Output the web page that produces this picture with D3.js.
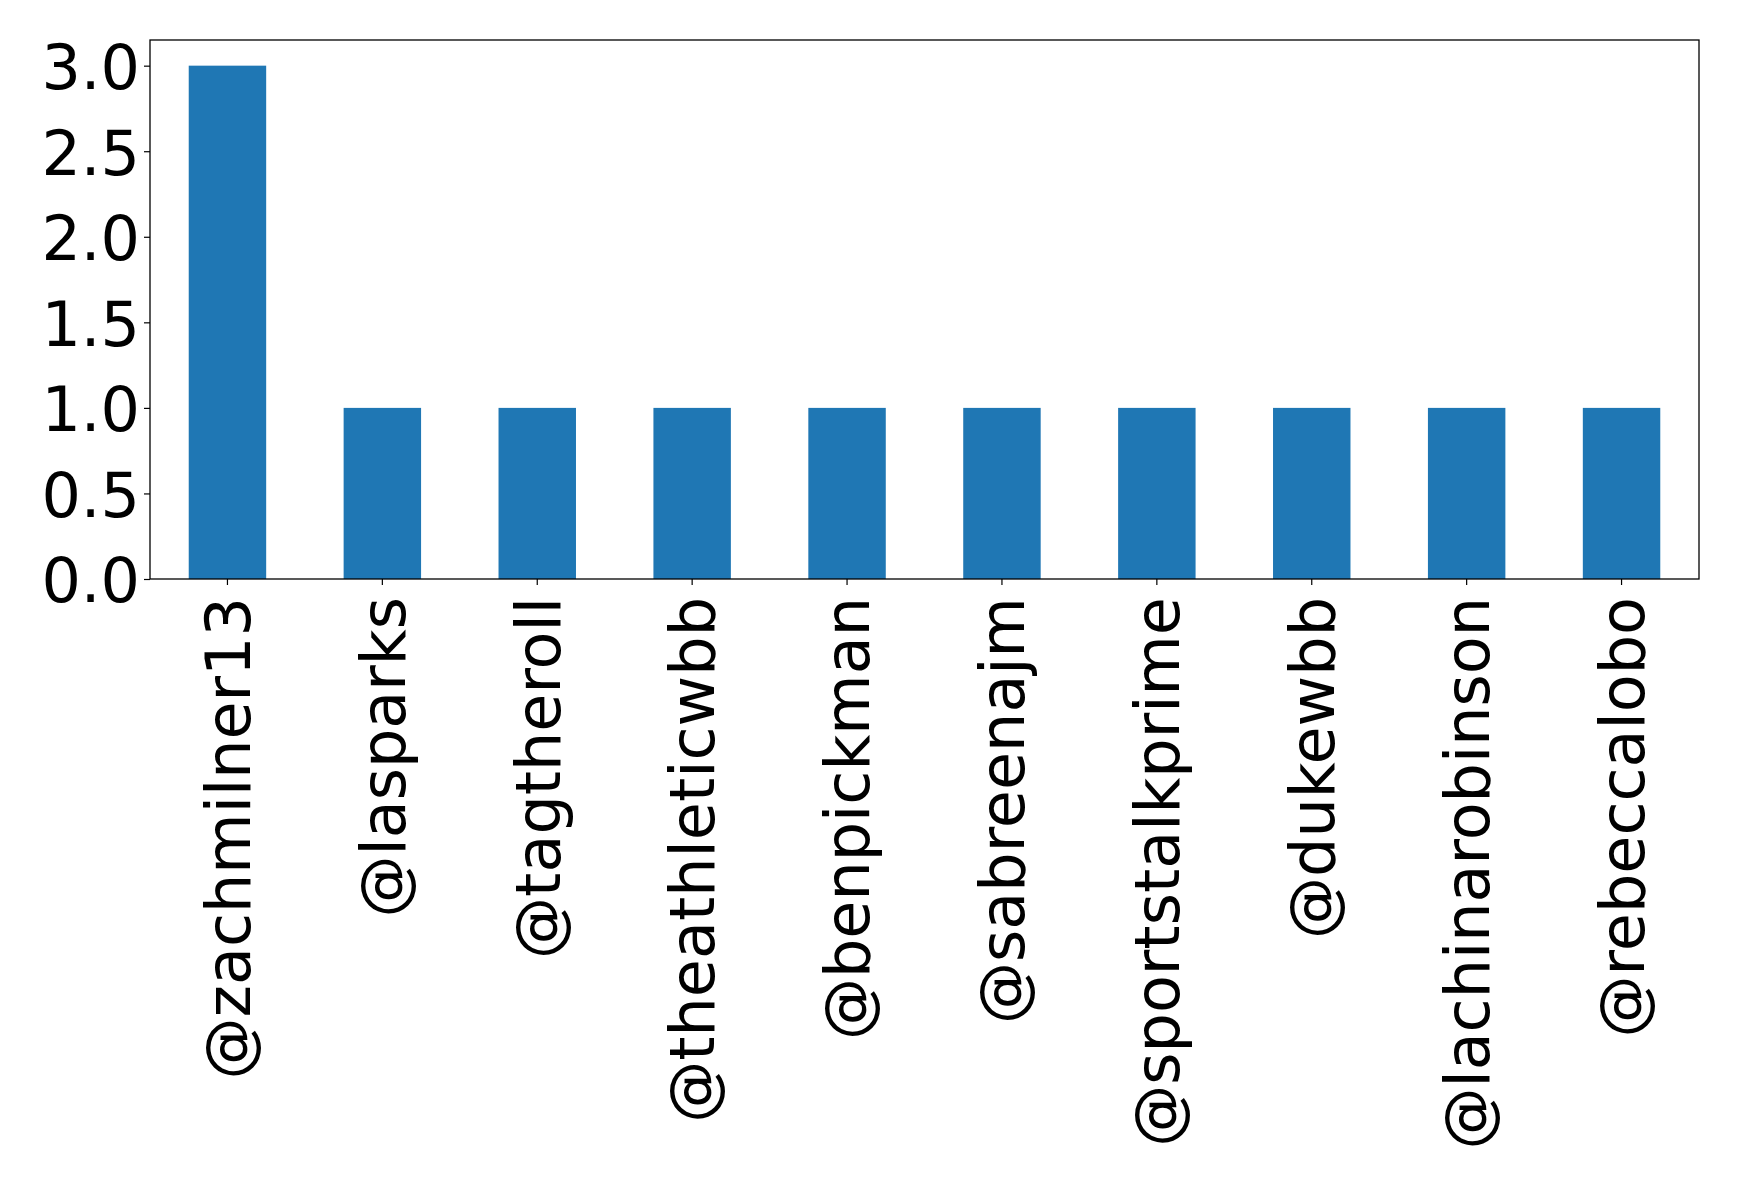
<!DOCTYPE html>
<html>
<head>
<meta charset="utf-8">
<script src="https://d3js.org/d3.v7.min.js"></script>
<style>
  body { margin: 0; background: #fff; }
  svg { display: block; }
</style>
</head>
<body>
<div id="chart"></div>
<script>
// data
var users = ["@zachmilner13", "@lasparks", "@tagtheroll", "@theathleticwbb", "@benpickman",
             "@sabreenajm", "@sportstalkprime", "@dukewbb", "@lachinarobinson", "@rebeccalobo"]
var counts = [3, 1, 1, 1, 1, 1, 1, 1, 1, 1]
var yTicks = [0, 0.5, 1.0, 1.5, 2.0, 2.5, 3.0]

// set the dimensions and margins of the graph
var width = 1739
var height = 1185
var margin = {top: 40, right: 40, bottom: 606, left: 150}
var plotW = width - margin.left - margin.right
var plotH = height - margin.top - margin.bottom
var fontSize = 62

var svg = d3.select("#chart")
  .append("svg")
    .attr("width", width)
    .attr("height", height)
    .style("font-family", "DejaVu Sans")

var g = svg.append("g")
    .attr("transform", "translate(" + margin.left + "," + margin.top + ")")

// scales
var x = d3.scaleBand()
  .domain(users)
  .range([0, plotW])
  .paddingInner(0.5)
  .paddingOuter(0.25)

var y = d3.scaleLinear()
  .domain([0, 3.15])
  .range([plotH, 0])

// bars
g.selectAll("rect.bar")
  .data(users)
  .enter()
  .append("rect")
    .attr("class", "bar")
    .attr("x", function(d){ return x(d) })
    .attr("width", x.bandwidth())
    .attr("y", function(d, i){ return y(counts[i]) })
    .attr("height", function(d, i){ return plotH - y(counts[i]) })
    .attr("fill", "#1f77b4")

// y axis
var yAxis = g.append("g")
  .call(d3.axisLeft(y).tickValues(yTicks).tickFormat(d3.format(".1f")).tickSize(6).tickPadding(4))
yAxis.select(".domain").remove()
yAxis.selectAll("text")
  .attr("font-size", fontSize)
  .attr("font-family", "DejaVu Sans")
  .attr("fill", "#000")
  .attr("dy", "0.37em")
yAxis.selectAll("line").attr("stroke", "#000").attr("stroke-width", 1.2)

// x axis with rotated labels
var xAxis = g.append("g")
  .attr("transform", "translate(0," + plotH + ")")
  .call(d3.axisBottom(x).tickSize(6).tickPadding(0))
xAxis.select(".domain").remove()
xAxis.selectAll("line").attr("stroke", "#000").attr("stroke-width", 1.2)
xAxis.selectAll("text")
  .attr("font-size", fontSize)
  .attr("font-family", "DejaVu Sans")
  .attr("fill", "#000")
  .attr("text-anchor", "end")
  .attr("transform", "rotate(-90)")
  .attr("x", -18)
  .attr("y", 0)
  .attr("dy", "0.36em")

// frame around the plot
g.append("rect")
  .attr("width", plotW)
  .attr("height", plotH)
  .attr("fill", "none")
  .attr("stroke", "#000")
  .attr("stroke-width", 1.3)
</script>
</body>
</html>
